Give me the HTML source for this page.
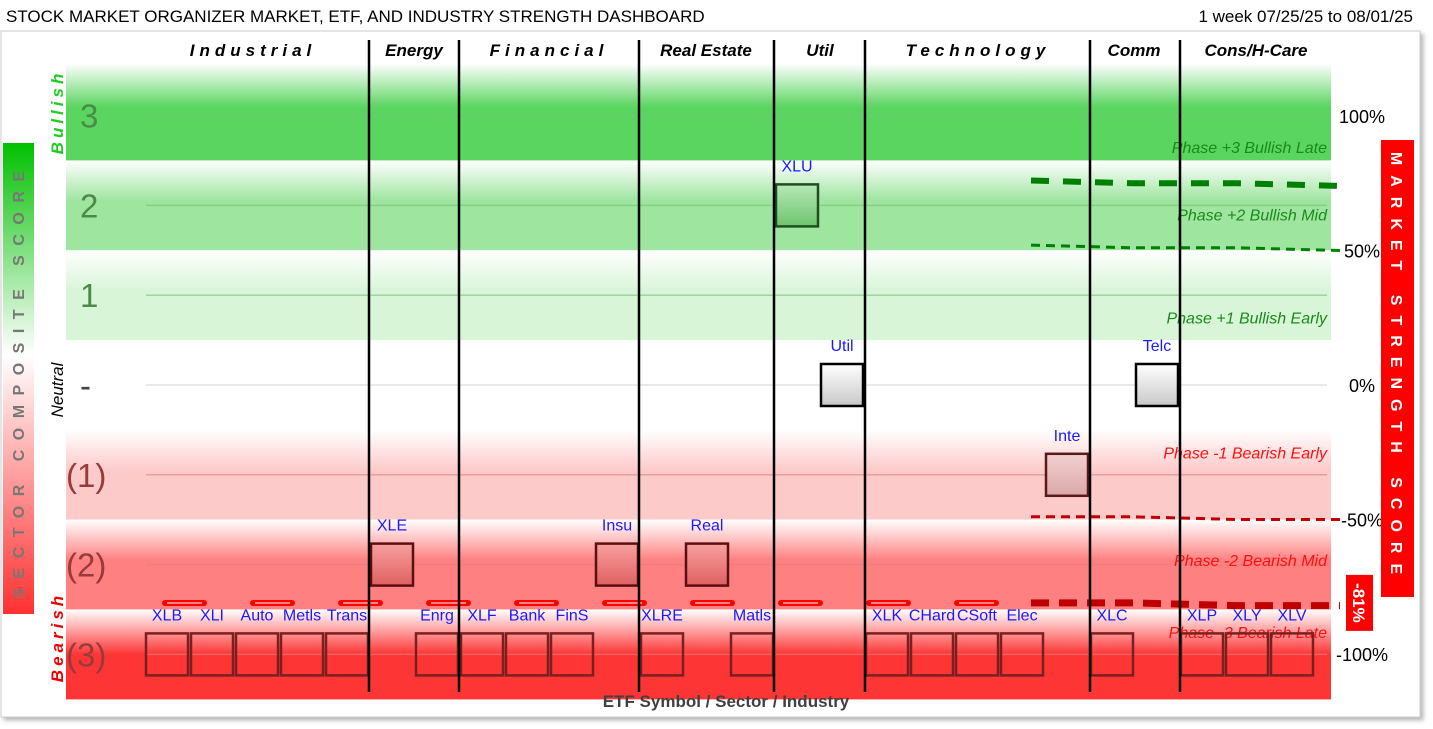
<!DOCTYPE html>
<html><head><meta charset="utf-8">
<style>
body{margin:0;background:#fff;width:1433px;height:729px;overflow:hidden;font-family:"Liberation Sans",sans-serif}
svg{position:absolute;left:0;top:0}
</style></head>
<body>
<svg id="chart" width="1433" height="729" viewBox="0 0 1433 729" xmlns="http://www.w3.org/2000/svg">
<defs>
<linearGradient id="g3" x1="0" y1="0" x2="0" y2="1"><stop offset="0" stop-color="#fff"/><stop offset="0.45" stop-color="#5ad55f"/><stop offset="1" stop-color="#5ad55f"/></linearGradient>
<linearGradient id="g2" x1="0" y1="0" x2="0" y2="1"><stop offset="0" stop-color="#fff"/><stop offset="0.45" stop-color="#9ee59f"/><stop offset="1" stop-color="#9ee59f"/></linearGradient>
<linearGradient id="g1" x1="0" y1="0" x2="0" y2="1"><stop offset="0" stop-color="#fff"/><stop offset="0.45" stop-color="#d8f5d8"/><stop offset="1" stop-color="#d8f5d8"/></linearGradient>
<linearGradient id="r1" x1="0" y1="0" x2="0" y2="1"><stop offset="0" stop-color="#fff"/><stop offset="0.45" stop-color="#fdcaca"/><stop offset="1" stop-color="#fdcaca"/></linearGradient>
<linearGradient id="r2" x1="0" y1="0" x2="0" y2="1"><stop offset="0" stop-color="#fff"/><stop offset="0.45" stop-color="#ff8080"/><stop offset="1" stop-color="#ff8080"/></linearGradient>
<linearGradient id="r3" x1="0" y1="0" x2="0" y2="1"><stop offset="0" stop-color="#fff"/><stop offset="0.5" stop-color="#fd3535"/><stop offset="1" stop-color="#fd3535"/></linearGradient>
<linearGradient id="side" x1="0" y1="0" x2="0" y2="1"><stop offset="0" stop-color="#00c000"/><stop offset="0.45" stop-color="#fff"/><stop offset="1" stop-color="#ff3030"/></linearGradient>
<linearGradient id="bxG" x1="0" y1="0" x2="0" y2="1"><stop offset="0" stop-color="#b8e8b8"/><stop offset="1" stop-color="#6cc46c"/></linearGradient>
<linearGradient id="bxN" x1="0" y1="0" x2="0" y2="1"><stop offset="0" stop-color="#fff"/><stop offset="1" stop-color="#c8c8c8"/></linearGradient>
<linearGradient id="bxP" x1="0" y1="0" x2="0" y2="1"><stop offset="0" stop-color="#f3d0d0"/><stop offset="1" stop-color="#dba8a8"/></linearGradient>
<linearGradient id="bxR" x1="0" y1="0" x2="0" y2="1"><stop offset="0" stop-color="#f7a0a0"/><stop offset="1" stop-color="#e06060"/></linearGradient>
<filter id="sh" x="-5%" y="-5%" width="110%" height="110%"><feDropShadow dx="3" dy="3" stdDeviation="2" flood-color="#888" flood-opacity="0.6"/></filter>
</defs>
<text x="6" y="22" font-size="17" fill="#000">STOCK MARKET ORGANIZER MARKET, ETF, AND INDUSTRY STRENGTH DASHBOARD</text>
<text x="1413" y="22" font-size="17" text-anchor="end" fill="#000">1 week 07/25/25 to 08/01/25</text>
<rect x="1" y="31" width="1419" height="686" fill="#fff" stroke="#ccc" filter="url(#sh)"/>
<g id="bands"></g>
<g id="grid"></g>
<g id="marks"></g>
</svg>
<script>
// ---- data ----
const symbols = ["XLB","XLI","Auto","Metls","Trans","XLE","Enrg","XLF","Bank","FinS","Insu","XLRE","Real","Matls","XLU","Util","XLK","CHard","CSoft","Elec","Inte","XLC","Telc","XLP","XLY","XLV"];
const scores  = [-3,-3,-3,-3,-3,-2,-3,-3,-3,-3,-2,-3,-2,-3,2,0,-3,-3,-3,-3,-1,-3,0,-3,-3,-3];
const sectors = ["Industrial","Energy","Financial","Real Estate","Util","Technology","Comm","Cons/H-Care"];
const sectorStart = [0,5,7,11,14,16,21,23];
const scoreTicks = ["3","2","1","-","(1)","(2)","(3)"];
const scoreTickValues = [3,2,1,0,-1,-2,-3];
const pctTicks = ["100%","50%","0%","-50%","-100%"];
const pctTickValues = [100,50,0,-50,-100];
const marketCurrent = -81;
const marketLine3 = [76,75,75,74];   // thick green dashed
const marketLine2 = [52,51,51,50];   // thin green dashed
const marketLine1 = [-49,-49,-50,-50]; // red dashed
const marketLine0 = [-81,-81,-82,-82]; // thick dark red dashed
const phaseLabels = ["Phase +3 Bullish Late","Phase +2 Bullish Mid","Phase +1 Bullish Early","Phase -1 Bearish Early","Phase -2 Bearish Mid","Phase -3 Bearish Late"];
const phaseLabelScores = [2.65,1.9,0.75,-0.75,-1.95,-2.75];

// ---- axes ----
const NS="http://www.w3.org/2000/svg";
const xCol = i => 146 + 45*i;
const yScore = s => 385 - 89.8*s;
const yPct = p => 385 - 2.69*p;
const X0=66, X1=1331;
function mk(tag, attrs, parent, text){const e=document.createElementNS(NS,tag);for(const k in attrs)e.setAttribute(k,attrs[k]);if(text!==undefined)e.textContent=text;parent.appendChild(e);return e;}
const svg=document.getElementById('chart');
const bands=document.getElementById('bands'), grid=document.getElementById('grid'), marks=document.getElementById('marks');

// bands
const bandFills=["url(#g3)","url(#g2)","url(#g1)","#fff","url(#r1)","url(#r2)","url(#r3)"];
scoreTickValues.forEach((s,i)=>{
  const r=mk('rect',{x:X0,y:yScore(s)-45-(s===3?7:0),width:X1-X0,height:90+(s===3?7:0),fill:bandFills[i]},bands);
  
  
});
// gridlines & left ticks
scoreTickValues.forEach((s,i)=>{
  const l=mk('line',{x1:146,x2:1327,y1:yScore(s),y2:yScore(s),stroke:s>0?'#7bbf7b':(s<0?'#e08080':'#d0d0d0'),'stroke-width':1.5,opacity:0.6},grid);
  
  
  const t=mk('text',{x:s<0?66:80,y:yScore(s)+12,'font-size':33,fill:s>0?'#4a8a4a':(s<0?'#9b3a3a':'#444'),'font-family':'Liberation Sans, sans-serif'},grid,scoreTicks[i]);
  
  
});
pctTickValues.forEach((p,i)=>{
  const t=mk('text',{x:1362,y:yPct(p)+7,'font-size':18,'text-anchor':'middle',fill:'#000'},grid,pctTicks[i]);
  
  
});
// phase labels
phaseLabels.forEach((txt,i)=>{
  const t=mk('text',{x:1327,y:yScore(phaseLabelScores[i])+6,'font-size':16,'font-style':'italic','text-anchor':'end',fill:i<3?'#1a8a1a':'#ff1010'},grid,txt);
  
  
});
// red dashed -3 boundary
for(let x=165;x<1030;x+=88){
  const d=mk('line',{x1:x,x2:x+39,y1:603,y2:603,stroke:'#f00','stroke-width':6,'stroke-linecap':'round'},grid);
  
  
  mk('line',{x1:x+2,x2:x+37,y1:603,y2:603,stroke:'#fff','stroke-width':1},grid);
}
// market lines
function mline(vals,color,w,dash,name){
  const n=vals.length, xa=1031, xb=1340;
  const pts=vals.map((v,i)=>(xa+(xb-xa)*i/(n-1))+','+yPct(v)).join(' ');
  const p=mk('polyline',{points:pts,fill:'none',stroke:color,'stroke-width':w,'stroke-dasharray':dash},marks);
  
  
}
mline(marketLine3,'#008000',6,'18,14','market-line-bull-late');
mline(marketLine2,'#008000',3,'9,6','market-line-bull-mid');
mline(marketLine1,'#c00000',3,'9,6','market-line-bear');
mline(marketLine0,'#c00000',7,'18,10','market-line-current');

// boxes
symbols.forEach((sym,i)=>{
  const s=scores[i], x=xCol(i), cy=yScore(s);
  let fill='none', stroke='#7a2020';
  if(s===2){fill='url(#bxG)';stroke='#1f4f1f';}
  else if(s===0){fill='url(#bxN)';stroke='#000';}
  else if(s===-1){fill='url(#bxP)';stroke='#5a1a1a';}
  else if(s===-2){fill='url(#bxR)';stroke='#5a1010';}
  const b=mk('rect',{x:x,y:cy-21,width:42,height:42,fill:fill,stroke:stroke,'stroke-width':2.5},marks);
  
  
  const t=mk('text',{x:x+21,y:cy-34,'font-size':16,'text-anchor':'middle',fill:'#1a1aff'},marks,sym);
  
  
});

// sector separators & headers
const seps=[369,459,639,774,865,1090,1180];
seps.forEach(x=>{
  const l=mk('line',{x1:x,x2:x,y1:40,y2:692,stroke:'#000','stroke-width':2.5},marks);
  
  
});
const hdrX=[253,414,549,706,820,978,1134,1256];
const spaced=[true,false,true,false,false,true,false,false];
sectors.forEach((s,i)=>{
  const t=mk('text',{x:hdrX[i],y:56,'font-size':17,'font-weight':'bold','font-style':'italic','text-anchor':'middle','letter-spacing':spaced[i]?'5':'0',fill:'#000'},marks,s);
  
  
});
const xt=mk('text',{x:726,y:707,'font-size':17,'font-weight':'bold','text-anchor':'middle',fill:'#404040'},marks,'ETF Symbol / Sector / Industry');



// side boxes
const lb=mk('rect',{x:3,y:143,width:31,height:471,fill:'url(#side)'},marks);


const lt=mk('text',{x:0,y:0,'font-size':16,'font-weight':'bold','text-anchor':'middle','letter-spacing':'9.5',fill:'#777',transform:'translate(24,380) rotate(-90)'},marks,'SECTOR COMPOSITE SCORE');


const rb=mk('rect',{x:1381,y:140,width:33,height:457,fill:'#ff0000'},marks);


const rt=mk('text',{x:0,y:0,'font-size':16,'font-weight':'bold','text-anchor':'middle','letter-spacing':'10',fill:'#fff',transform:'translate(1391,368) rotate(90)'},marks,'MARKET STRENGTH SCORE');


const cb=mk('rect',{x:1346,y:yPct(marketCurrent)-28,width:27,height:56,fill:'#ff0000'},marks);


const ct=mk('text',{x:0,y:0,'font-size':17,'font-weight':'bold','text-anchor':'middle',fill:'#fff',transform:'translate(1353,'+yPct(marketCurrent)+') rotate(90)'},marks,marketCurrent+'%');


[['Bullish',112,'#22cc22'],['Neutral',390,'#000'],['Bearish',637,'#ee0000']].forEach(([w,y,c])=>{
  const t=mk('text',{x:0,y:0,'font-size':17,'font-weight':w==='Neutral'?'normal':'bold','font-style':'italic','text-anchor':'middle','letter-spacing':w==='Neutral'?'0':'4',fill:c,transform:'translate(63,'+y+') rotate(-90)'},marks,w);
  
  
});
</script>
</body></html>
